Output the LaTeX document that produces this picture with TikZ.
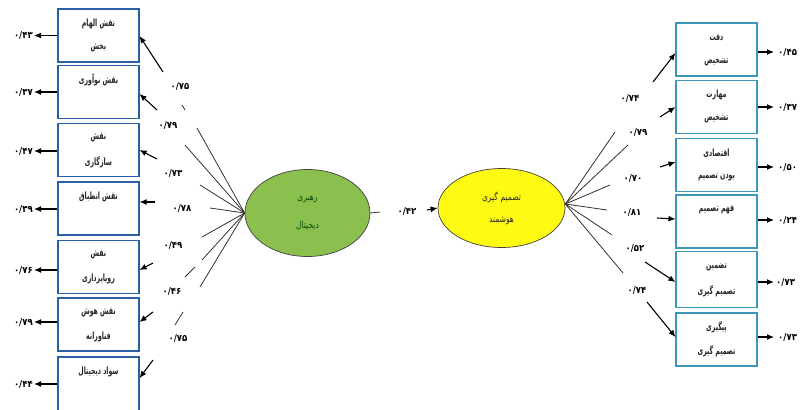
\documentclass[tikz,border=0pt]{standalone}
\usepackage{fontspec}
\usetikzlibrary{shapes.geometric,arrows.meta}
\TeXXeTstate=1
\newfontfamily\fa[Script=Arabic,FakeStretch=0.8]{DejaVu Sans}
\newfontfamily\fabox[Script=Arabic,FakeStretch=0.62]{DejaVu Sans}
\newfontfamily\fanum[Script=Arabic,FakeStretch=0.9]{DejaVu Sans}
\newcommand\rl[1]{{\beginR #1\endR}}
\definecolor{lblue}{RGB}{40,95,165}
\definecolor{rblue}{RGB}{60,150,185}
\definecolor{leafgreen}{RGB}{140,192,78}
\definecolor{brightyellow}{RGB}{255,250,20}
\tikzset{
  lbox/.style={draw=lblue, line width=1.1pt, minimum width=81pt, minimum height=53pt, inner sep=0pt},
  rbox/.style={draw=rblue, line width=1.1pt, minimum width=81pt, minimum height=53pt, inner sep=0pt},
  btxt/.style={font=\fabox\bfseries\fontsize{10}{11}\selectfont, text=black!85, inner sep=0pt},
  ltxt/.style={font=\fa\fontsize{9.5}{10}\selectfont, inner sep=0pt},
  val/.style={font=\fanum\bfseries\fontsize{9.5}{10}\selectfont, inner sep=1pt},
  fan/.style={draw=black!80, line width=0.8pt},
  arr/.style={-{Latex[length=7pt,width=6pt]}, line width=1.1pt},
  latent/.style={ellipse, draw=black!75, line width=0.7pt, inner sep=0pt}
}
\begin{document}
\begin{tikzpicture}[x=1pt,y=-1pt]
\clip (0,0) rectangle (804,410);
\fill[white] (0,0) rectangle (804,410);

% latent variables
\node[latent, fill=leafgreen, minimum width=125pt, minimum height=87pt] (rd) at (307.5,213) {};
\node[ltxt, text=green!30!black] (rdt1) at (307.5,199) {\rl{رهبری}};
\node[ltxt, text=green!30!black] (rdt2) at (307.5,226) {\rl{دیجیتال}};
\node[latent, fill=brightyellow, minimum width=127pt, minimum height=79pt] (th) at (501.5,208) {};
\node[ltxt, text=black!85] (tht1) at (501.5,197) {\rl{تصمیم گیری}};
\node[ltxt, text=black!85] (tht2) at (501.5,221) {\rl{هوشمند}};

% structural path
\coordinate (m0) at (380,212);
\coordinate (m1) at (427,210);
\draw[fan] (rd.east) -- (m0);
\draw[arr] (m1) -- (th.west);
\node[val] (mv) at (407,211) {۰/۴۲};

% left indicators
\node[lbox] (l1) at (98.5,35.5) {};
\node[lbox] (l2) at (98.5,92) {};
\node[lbox] (l3) at (98.5,150) {};
\node[lbox] (l4) at (98.5,208.5) {};
\node[lbox] (l5) at (98.5,267) {};
\node[lbox] (l6) at (98.5,324.5) {};
\node[lbox, minimum height=62pt] (l7) at (98.5,388) {};

\node[btxt] (l1a) at ([yshift=-15pt]l1.north) {\rl{نقش الهام}};
\node[btxt] (l1b) at ([yshift=-39pt]l1.north) {\rl{بخش}};
\node[btxt] (l2a) at ([yshift=-15pt]l2.north) {\rl{نقش نوآوری}};
\node[btxt] (l3a) at ([yshift=-15pt]l3.north) {\rl{نقش}};
\node[btxt] (l3b) at ([yshift=-39pt]l3.north) {\rl{سازگاری}};
\node[btxt] (l4a) at ([yshift=-15pt]l4.north) {\rl{نقش انطباق}};
\node[btxt] (l5a) at ([yshift=-15pt]l5.north) {\rl{نقش}};
\node[btxt] (l5b) at ([yshift=-39pt]l5.north) {\rl{رویاپردازی}};
\node[btxt] (l6a) at ([yshift=-15pt]l6.north) {\rl{نقش هوش}};
\node[btxt] (l6b) at ([yshift=-39pt]l6.north) {\rl{فناورانه}};
\node[btxt] (l7a) at ([yshift=-15pt]l7.north) {\rl{سواد دیجیتال}};

% left error terms
\coordinate (e1) at (34,35.5);
\coordinate (e2) at (34,92);
\coordinate (e3) at (34,151);
\coordinate (e4) at (34,209);
\coordinate (e5) at (34,270);
\coordinate (e6) at (34,322);
\coordinate (e7) at (34,384);
\foreach \i in {1,...,7}{ \draw[arr] (l\i.west|-e\i) -- (e\i); }
\node[val, anchor=east] (ev1) at (e1) {۰/۴۳};
\node[val, anchor=east] (ev2) at (e2) {۰/۳۷};
\node[val, anchor=east] (ev3) at (e3) {۰/۴۷};
\node[val, anchor=east] (ev4) at (e4) {۰/۳۹};
\node[val, anchor=east] (ev5) at (e5) {۰/۷۶};
\node[val, anchor=east] (ev6) at (e6) {۰/۷۹};
\node[val, anchor=east] (ev7) at (e7) {۰/۴۴};

% left loadings: fan from the latent variable
\coordinate (f1) at (197,128);
\coordinate (f2) at (185,145);
\coordinate (f3) at (200,185);
\coordinate (f4) at (210,208);
\coordinate (f5) at (202,237);
\coordinate (f6) at (202,260);
\coordinate (f7) at (200,287);
\foreach \i in {1,...,7}{ \draw[fan] (rd.west) -- (f\i); }
\coordinate (d1a) at (182,105); \coordinate (d1b) at (185,110);
\coordinate (d5a) at (185,277); \coordinate (d5b) at (195,267);
\coordinate (d6a) at (175,325); \coordinate (d6b) at (183,312);
\draw[fan] (d1a) -- (d1b);
\draw[fan] (d5a) -- (d5b);
\draw[fan] (d6a) -- (d6b);

% left loadings: arrows into the indicators
\coordinate (t1) at (163,72);
\coordinate (t2) at (157,110);
\coordinate (t3) at (157,159);
\coordinate (t4) at (155,202);
\coordinate (t5) at (153,263);
\coordinate (t6) at (153,312);
\coordinate (t7) at (153,360);
\draw[arr] (t1) -- ([yshift=-0.5pt]l1.east);
\draw[arr] (t2) -- ([yshift=-2pt]l2.east);
\draw[arr] (t3) -- (l3.east);
\draw[arr] (t4) -- ([yshift=6.5pt]l4.east);
\draw[arr] (t5) -- ([yshift=-3pt]l5.east);
\draw[arr] (t6) -- ([yshift=2.5pt]l6.east);
\draw[arr] (t7) -- ([yshift=10pt]l7.east);

\node[val] (lv1) at (180,86) {۰/۷۵};
\node[val] (lv2) at (168,125) {۰/۷۹};
\node[val] (lv3) at (173,173) {۰/۷۳};
\node[val] (lv4) at (182,208) {۰/۷۸};
\node[val] (lv5) at (173,245) {۰/۴۹};
\node[val] (lv6) at (172,291) {۰/۴۶};
\node[val] (lv7) at (178,338) {۰/۷۵};

% right indicators
\node[rbox] (r1) at (716.5,49.5) {};
\node[rbox] (r2) at (716.5,107) {};
\node[rbox] (r3) at (716.5,165) {};
\node[rbox] (r4) at (716.5,221.5) {};
\node[rbox, minimum height=56pt] (r5) at (716.5,279.5) {};
\node[rbox] (r6) at (716.5,339.5) {};

\node[btxt] (r1a) at ([yshift=-15pt]r1.north) {\rl{دقت}};
\node[btxt] (r1b) at ([yshift=-39pt]r1.north) {\rl{تشخیص}};
\node[btxt] (r2a) at ([yshift=-15pt]r2.north) {\rl{مهارت}};
\node[btxt] (r2b) at ([yshift=-39pt]r2.north) {\rl{تشخیص}};
\node[btxt] (r3a) at ([yshift=-15pt]r3.north) {\rl{اقتصادی}};
\node[btxt] (r3b) at ([yshift=-39pt]r3.north) {\rl{بودن تصمیم}};
\node[btxt] (r4a) at ([yshift=-15pt]r4.north) {\rl{فهم تصمیم}};
\node[btxt] (r5a) at ([yshift=-16pt]r5.north) {\rl{تضمین}};
\node[btxt] (r5b) at ([yshift=-40pt]r5.north) {\rl{تصمیم گیری}};
\node[btxt] (r6a) at ([yshift=-15pt]r6.north) {\rl{پیگیری}};
\node[btxt] (r6b) at ([yshift=-39pt]r6.north) {\rl{تصمیم گیری}};

% right error terms
\coordinate (g1) at (774,52);
\coordinate (g2) at (774,107);
\coordinate (g3) at (774,167);
\coordinate (g4) at (774,220);
\coordinate (g5) at (774,282);
\coordinate (g6) at (774,337);
\foreach \i in {1,...,6}{ \draw[arr] (r\i.east|-g\i) -- (g\i); }
\node[val, anchor=west] (gv1) at ([xshift=3pt]g1) {۰/۴۵};
\node[val, anchor=west] (gv2) at ([xshift=3pt]g2) {۰/۳۷};
\node[val, anchor=west] (gv3) at ([xshift=3pt]g3) {۰/۵۰};
\node[val, anchor=west] (gv4) at ([xshift=3pt]g4) {۰/۲۴};
\node[val, anchor=west] (gv5) at ([xshift=1pt]g5) {۰/۷۳};
\node[val, anchor=west] (gv6) at ([xshift=3pt]g6) {۰/۷۳};

% right loadings: fan from the latent variable
\coordinate (h1) at (615,132);
\coordinate (h2) at (628,145);
\coordinate (h3) at (610,185);
\coordinate (h4) at (607,210);
\coordinate (h5) at (612,235);
\coordinate (h6) at (623,273);
\foreach \i in {1,...,6}{ \draw[fan] ([yshift=4pt]th.east) -- (h\i); }

% right loadings: arrows into the indicators
\coordinate (s1) at (653,82);
\coordinate (s2) at (660,117);
\coordinate (s3) at (660,167);
\coordinate (s4) at (657,218);
\coordinate (s5) at (645,262);
\coordinate (s6) at (647,302);
\draw[arr] (s1) -- ([yshift=-3.5pt]r1.west);
\draw[arr] (s2) -- (r2.west);
\draw[arr] (s3) -- ([yshift=3pt]r3.west);
\draw[arr] (s4) -- ([yshift=2.5pt]r4.west);
\draw[arr] (s5) -- ([yshift=-2.5pt]r5.west);
\draw[arr] (s6) -- ([yshift=2.5pt]r6.west);

\node[val] (rv1) at (630,98) {۰/۷۴};
\node[val] (rv2) at (638,132) {۰/۷۹};
\node[val] (rv3) at (633,178) {۰/۷۰};
\node[val] (rv4) at (632,212) {۰/۸۱};
\node[val] (rv5) at (635,248) {۰/۵۲};
\node[val] (rv6) at (637,290) {۰/۷۴};
\end{tikzpicture}
\end{document}
